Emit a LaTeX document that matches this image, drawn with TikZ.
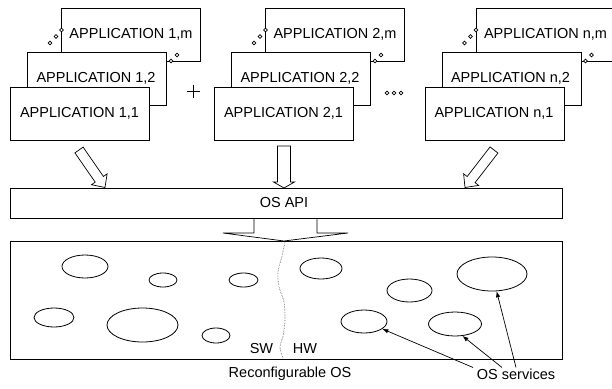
\documentclass[tikz,border=0pt]{standalone}
\usepackage{fontspec}
\setmainfont{Liberation Sans}
\usetikzlibrary{calc,arrows.meta,shapes.geometric}
\tikzset{
  appbox/.style={draw, fill=white, line width=0.8pt, minimum width=139pt, minimum height=53pt, anchor=north west, inner sep=0pt},
  apptext/.style={font=\fontsize{14.5}{16}\selectfont, inner sep=0pt},
  dotc/.style={draw, fill=white, line width=0.6pt},
  hollow/.style={draw, fill=white, line width=0.7pt, line join=miter},
  bigbox/.style={draw, line width=0.8pt, anchor=north west, inner sep=0pt},
  svc/.style={ellipse, draw, line width=0.8pt, inner sep=0pt},
  pointer/.style={-{Latex[length=6pt,width=4.5pt]}, line width=0.7pt},
  lbl/.style={font=\fontsize{14.5}{16}\selectfont, inner sep=0pt},
  divider/.style={densely dotted, line width=0.6pt, black!70}
}
\newcommand{\appgroup}[3]{%
  \begin{scope}[shift={(#1,0)}]
    \node[appbox] (#3m) at (61,8) {};
    \node[apptext] (#3mt) at (131,34) {APPLICATION #2,m};
    \path[dotc] (50,43) circle (1.9pt) (56,36.5) circle (1.9pt) (61.5,30) circle (1.9pt)
                (171,61) circle (1.9pt) (177,55) circle (1.9pt);
    \node[appbox] (#3b) at (27,52) {};
    \node[apptext] (#3bt) at (96,78) {APPLICATION #2,2};
    \node[appbox] (#3a) at (10,87) {};
    \node[apptext] (#3at) at (79.5,113) {APPLICATION #2,1};
  \end{scope}}
\newcommand{\hollowarrow}[5]{%
  \coordinate (hh) at ($(#2)!#5!(#1)$);
  \path[hollow] ($(#1)!#3!90:(#2)$) -- ($(hh)!#3!-90:(#1)$) -- ($(hh)!#4!-90:(#1)$)
     -- (#2) -- ($(hh)!#4!90:(#1)$) -- ($(hh)!#3!90:(#1)$) -- ($(#1)!#3!-90:(#2)$) -- cycle;}
\begin{document}
\begin{tikzpicture}[x=1pt,y=-1pt]
\useasboundingbox (0,0) rectangle (612,388);
\clip (0,0) rectangle (612,388);

% application stacks
\appgroup{0}{1}{ga}
\appgroup{204}{2}{gb}
\appgroup{414.5}{n}{gc}

% separators
\draw[line width=0.7pt] (186.5,91) -- (199.5,91) (193,84.5) -- (193,97.5);
\path[dotc] (387,93) circle (1.9pt) (394,93) circle (1.9pt) (401,93) circle (1.9pt);

% OS API
\node[bigbox, minimum width=552pt, minimum height=30pt] (api) at (10,188) {};
\node[lbl] (apit) at (284,203) {OS API};

% hollow arrows from stacks to API
\coordinate (t1) at (79,150);
\coordinate (p1) at (105,187.5);
\coordinate (t2) at (284,146);
\coordinate (p2) at (284,188);
\coordinate (t3) at (494,150);
\coordinate (p3) at (465,187.5);
\hollowarrow{t1}{p1}{5pt}{9.5pt}{10pt}
\hollowarrow{t2}{p2}{6.5pt}{10.5pt}{6pt}
\hollowarrow{t3}{p3}{5pt}{9.5pt}{10pt}

% reconfigurable OS box
\node[bigbox, minimum width=552pt, minimum height=118pt] (ros) at (10,241) {};

% big arrow API -> OS
\coordinate (bt) at (284,241);
\draw[line width=0.7pt, line join=miter] (254,218) -- (254,233) -- (223,233) -- (bt) -- (348,233) -- (317,233) -- (317,218);

% SW/HW divider
\draw[divider] plot[smooth] coordinates {(285,242) (282,256) (278,272) (279,287) (284,302) (285,320) (283,336) (280,347) (283,358.5)};
\node[lbl] (sw) at (261.5,349) {SW};
\node[lbl] (hw) at (305,349) {HW};

% services
\node[svc, minimum width=46pt, minimum height=23pt] (e1) at (85,266.5) {};
\node[svc, minimum width=28pt, minimum height=14pt] (e2) at (163,280) {};
\node[svc, minimum width=29pt, minimum height=14pt] (e3) at (243.5,280) {};
\node[svc, minimum width=40pt, minimum height=19pt] (e4) at (54,317.5) {};
\node[svc, minimum width=71pt, minimum height=34pt] (e5) at (142.5,325) {};
\node[svc, minimum width=28pt, minimum height=15pt] (e6) at (216,335.5) {};
\node[svc, minimum width=42pt, minimum height=21pt] (e7) at (321,268.5) {};
\node[svc, minimum width=45pt, minimum height=23pt] (e8) at (409.5,290.5) {};
\node[svc, minimum width=70pt, minimum height=34pt] (e9) at (492,274) {};
\node[svc, minimum width=46pt, minimum height=23pt] (e10) at (364,321.5) {};
\node[svc, minimum width=53pt, minimum height=24pt] (e11) at (455,324) {};

% labels
\node[lbl] (rosl) at (290,374) {Reconfigurable OS};
\node[lbl] (osl) at (516,374) {OS services};

\draw[pointer] ([xshift=-43pt,yshift=1pt]osl.north) -- (e10.-22);
\draw[pointer] ([xshift=-14pt,yshift=1pt]osl.north) -- (e11.-58);
\draw[pointer] ([xshift=0pt,yshift=1pt]osl.north) -- (e9.-75);
\end{tikzpicture}
\end{document}
